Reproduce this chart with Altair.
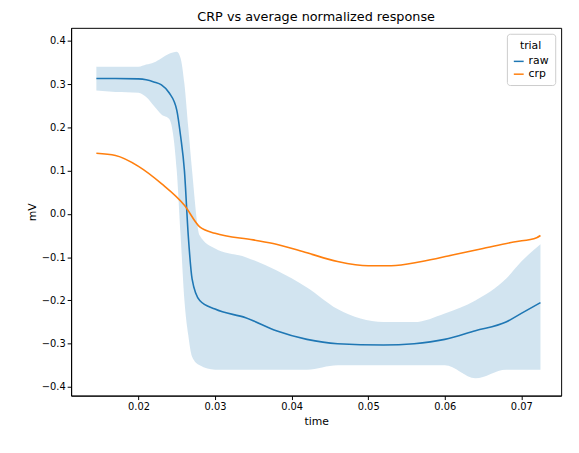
import altair as alt
import pandas as pd

# raw trial: mean and band
RAW_T = [0.0145, 0.017, 0.020, 0.021, 0.022, 0.023, 0.024, 0.025, 0.0255, 0.026, 0.0265,
         0.027, 0.028, 0.030, 0.034, 0.038, 0.042, 0.046, 0.052, 0.056, 0.060, 0.064,
         0.068, 0.070, 0.0725]
RAW_MEAN = [0.313, 0.313, 0.312, 0.310, 0.305, 0.298, 0.280, 0.240, 0.18, 0.10, -0.05,
            -0.15, -0.20, -0.22, -0.24, -0.27, -0.29, -0.30, -0.303, -0.30, -0.29, -0.27,
            -0.25, -0.23, -0.205]
RAW_HI = [0.34, 0.34, 0.34, 0.345, 0.35, 0.36, 0.37, 0.375, 0.36, 0.30, 0.20,
          0.10, -0.05, -0.08, -0.10, -0.13, -0.17, -0.22, -0.25, -0.25, -0.23, -0.20,
          -0.15, -0.11, -0.07]
RAW_LO = [0.285, 0.282, 0.28, 0.27, 0.25, 0.23, 0.22, 0.10, -0.05, -0.20, -0.28,
          -0.33, -0.35, -0.36, -0.36, -0.36, -0.36, -0.35, -0.35, -0.35, -0.35, -0.38,
          -0.36, -0.36, -0.36]

# crp trial
CRP_T = [0.0145, 0.017, 0.020, 0.023, 0.026, 0.028, 0.030, 0.035, 0.038, 0.042, 0.046,
         0.050, 0.053, 0.057, 0.061, 0.065, 0.069, 0.072, 0.0725]
CRP_MEAN = [0.14, 0.135, 0.11, 0.07, 0.02, -0.03, -0.045, -0.06, -0.07, -0.09, -0.11,
            -0.12, -0.12, -0.11, -0.095, -0.08, -0.065, -0.055, -0.05]

band_df = pd.DataFrame({"time": RAW_T, "lo": RAW_LO, "hi": RAW_HI})
line_df = pd.concat([
    pd.DataFrame({"time": RAW_T, "mV": RAW_MEAN, "trial": "raw"}),
    pd.DataFrame({"time": CRP_T, "mV": CRP_MEAN, "trial": "crp"}),
])

x_scale = alt.Scale(domain=[0.0112, 0.0752], nice=False, zero=False)
y_scale = alt.Scale(domain=[-0.42, 0.43], nice=False, zero=False)

band = alt.Chart(band_df).mark_area(color="#1f77b4", opacity=0.2, interpolate="monotone").encode(
    x=alt.X("time:Q", scale=x_scale, title="time",
            axis=alt.Axis(values=[0.02, 0.03, 0.04, 0.05, 0.06, 0.07], format=".2f")),
    y=alt.Y("lo:Q", scale=y_scale, title="mV",
            axis=alt.Axis(values=[-0.4, -0.3, -0.2, -0.1, 0.0, 0.1, 0.2, 0.3, 0.4], format=".1f")),
    y2="hi:Q",
)

lines = alt.Chart(line_df).mark_line(strokeWidth=1.6, interpolate="monotone").encode(
    x=alt.X("time:Q", scale=x_scale),
    y=alt.Y("mV:Q", scale=y_scale),
    color=alt.Color("trial:N", title="trial",
                    scale=alt.Scale(domain=["raw", "crp"], range=["#1f77b4", "#ff7f0e"]),
                    legend=alt.Legend(orient="top-right", symbolType="stroke", offset=6,
                                      strokeColor="#cccccc", fillColor="white", padding=6,
                                      cornerRadius=3, titleAnchor="middle",
                                      titleFontWeight="normal", titleFontSize=11,
                                      labelFontSize=11)),
)

chart = (band + lines).properties(
    width=497, height=373,
    title=alt.TitleParams("CRP vs average normalized response", fontSize=13,
                          fontWeight="normal", font="DejaVu Sans"),
    autosize=alt.AutoSizeParams(type="none"),
    padding={"left": 64, "top": 17, "right": 10, "bottom": 50},
).configure_view(stroke="black", strokeWidth=1).configure_axis(
    grid=False, domainColor="black", tickColor="black", labelColor="black",
    titleColor="black", labelFont="DejaVu Sans", titleFont="DejaVu Sans",
    labelFontSize=10, titleFontSize=11, titleFontWeight="normal", tickSize=4,
).configure_legend(labelFont="DejaVu Sans", titleFont="DejaVu Sans")

chart.save("out.html", embed_options={"renderer": "svg", "actions": False})
